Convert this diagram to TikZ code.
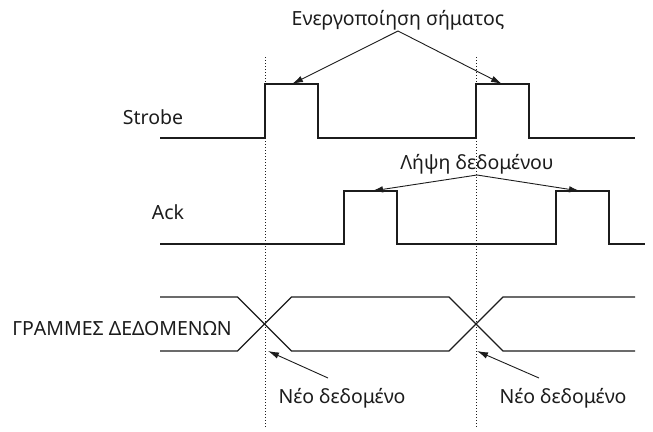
\documentclass[tikz,border=0pt]{standalone}
\usepackage{fontspec}
\setmainfont{Noto Sans}
\usetikzlibrary{arrows.meta,positioning,calc}
\definecolor{inkgrey}{RGB}{28,28,28}
\tikzset{
  wave/.style={draw=inkgrey,line width=1.1pt,line join=miter},
  marker/.style={draw=inkgrey,line width=0.8pt,dash pattern=on 1.4pt off 1.6pt},
  pointer/.style={-{Latex[length=11pt,width=6.5pt]},draw=inkgrey,line width=0.9pt},
  sig/.style={font=\fontsize{19.5}{21}\selectfont,text=inkgrey,inner sep=1pt},
  note/.style={sig}
}
\begin{document}
\begin{tikzpicture}[x=1pt,y=-1pt]
  \useasboundingbox (0,0) rectangle (653,431);
  % signal names
  \node[sig] (strobe) at (153,117) {Strobe};
  \node[sig] (ack) at (168,212) {Ack};
  \node[sig] (data) at (122,329) {ΓΡΑΜΜΕΣ ΔΕΔΟΜΕΝΩΝ};
  % time markers
  \foreach \t in {265,476}
    \draw[marker] (\t,57) -- (\t,428);
  % waveforms
  \draw[wave] (160,138) -- (265,138) -- (265,84) -- (318,84) -- (318,138) -- (476,138)
    -- (476,84) -- (529,84) -- (529,138) -- (635,138);
  \draw[wave] (160,244) -- (344,244) -- (344,191) -- (397,191) -- (397,244) -- (556,244)
    -- (556,191) -- (609,191) -- (609,244) -- (645,244);
  \draw[wave] (160,297) -- (237.5,297) -- (291.5,351) -- (449,351) -- (503,297) -- (635,297);
  \draw[wave] (160,351) -- (237.5,351) -- (291.5,297) -- (449,297) -- (503,351) -- (635,351);
  % arrow targets
  \coordinate (stb1) at (292,84);
  \coordinate (stb2) at (502,84);
  \coordinate (ack1) at (372,191);
  \coordinate (ack2) at (580,191);
  \coordinate (x1) at (268,351);
  \coordinate (x2) at (477,351);
  \coordinate (x1tail) at (328,378);
  \coordinate (x2tail) at (539,378);
  % notes
  \node[note,anchor=south] (enable) at (398,31) {Ενεργοποίηση σήματος};
  \node[note,anchor=south] (recv) at (477,175) {Λήψη δεδομένου};
  \node[note] (new1) at (342,398) {Νέο δεδομένο};
  \node[note] (new2) at (563,398) {Νέο δεδομένο};
  \draw[pointer] (enable.south) -- (stb1);
  \draw[pointer] (enable.south) -- (stb2);
  \draw[pointer] (recv.south) -- (ack1);
  \draw[pointer] (recv.south) -- (ack2);
  \draw[pointer] (x1tail) -- (x1);
  \draw[pointer] (x2tail) -- (x2);
\end{tikzpicture}
\end{document}
